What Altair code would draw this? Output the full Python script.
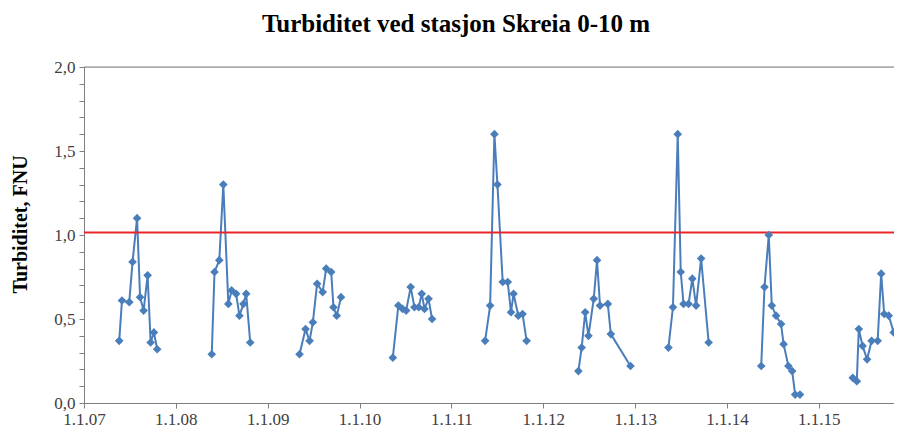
import altair as alt
import pandas as pd

# Sampling times (decimal years) and turbidity values (FNU), one list per season
t2007 = [2007.386, 2007.415, 2007.495, 2007.531, 2007.579, 2007.612, 2007.651, 2007.695, 2007.727, 2007.763, 2007.80]
v2007 = [0.37, 0.61, 0.60, 0.84, 1.10, 0.63, 0.55, 0.76, 0.36, 0.42, 0.32]
t2008 = [2008.392, 2008.421, 2008.475, 2008.519, 2008.573, 2008.609, 2008.657, 2008.693, 2008.737, 2008.766, 2008.81]
v2008 = [0.29, 0.78, 0.85, 1.30, 0.59, 0.67, 0.65, 0.52, 0.59, 0.65, 0.36]
t2009 = [2009.346, 2009.411, 2009.455, 2009.491, 2009.539, 2009.600, 2009.637, 2009.691, 2009.716, 2009.752, 2009.800]
v2009 = [0.29, 0.44, 0.37, 0.48, 0.71, 0.66, 0.80, 0.78, 0.57, 0.52, 0.63]
t2010 = [2010.362, 2010.424, 2010.471, 2010.508, 2010.558, 2010.598, 2010.645, 2010.678, 2010.707, 2010.751, 2010.791]
v2010 = [0.27, 0.58, 0.56, 0.55, 0.69, 0.57, 0.57, 0.65, 0.56, 0.62, 0.50]
t2011 = [2011.368, 2011.422, 2011.469, 2011.502, 2011.560, 2011.614, 2011.651, 2011.679, 2011.730, 2011.777, 2011.821]
v2011 = [0.37, 0.58, 1.60, 1.30, 0.72, 0.72, 0.54, 0.65, 0.52, 0.53, 0.37]
t2012 = [2012.384, 2012.420, 2012.457, 2012.493, 2012.551, 2012.587, 2012.620, 2012.703, 2012.735, 2012.950]
v2012 = [0.19, 0.33, 0.54, 0.40, 0.62, 0.85, 0.58, 0.59, 0.41, 0.22]
t2013 = [2013.364, 2013.411, 2013.465, 2013.498, 2013.527, 2013.581, 2013.622, 2013.665, 2013.720, 2013.802]
v2013 = [0.33, 0.57, 1.60, 0.78, 0.59, 0.59, 0.74, 0.58, 0.86, 0.36]
t2014 = [2014.373, 2014.409, 2014.456, 2014.489, 2014.536, 2014.591, 2014.619, 2014.670, 2014.710, 2014.743, 2014.797]
v2014 = [0.22, 0.69, 1.00, 0.58, 0.52, 0.47, 0.35, 0.22, 0.19, 0.05, 0.05]
t2015 = [2015.370, 2015.414, 2015.436, 2015.479, 2015.527, 2015.577, 2015.643, 2015.680, 2015.715, 2015.762, 2015.817]
v2015 = [0.15, 0.13, 0.44, 0.34, 0.26, 0.37, 0.37, 0.77, 0.53, 0.52, 0.42]

limit_value = 1.015
year_ticks = [f"{y}-01-01" for y in range(2007, 2016)]
y_ticks = [round(i * 0.1, 1) for i in range(0, 21)]

seasons = {
    "2007": (t2007, v2007), "2008": (t2008, v2008), "2009": (t2009, v2009),
    "2010": (t2010, v2010), "2011": (t2011, v2011), "2012": (t2012, v2012),
    "2013": (t2013, v2013), "2014": (t2014, v2014), "2015": (t2015, v2015),
}

rows = []
for s, (ts, vs) in seasons.items():
    for t, v in zip(ts, vs):
        yr = int(t)
        start = pd.Timestamp(f"{yr}-01-01")
        end = pd.Timestamp(f"{yr + 1}-01-01")
        d = start + (end - start) * (t - yr)
        rows.append({"season": s, "date": d.strftime("%Y-%m-%d"), "value": v})
df = pd.DataFrame(rows)

serif = "Liberation Serif"
W, H = 810, 336

x_scale = alt.Scale(domain=["2007-01-01", "2015-10-27"])
y_scale = alt.Scale(domain=[0, 2.0], nice=False)

x_axis = alt.Axis(
    values=year_ticks, labelExpr="'1.1.' + timeFormat(datum.value, '%y')",
    title=None, grid=False, domainColor="#7f7f7f", tickColor="#7f7f7f",
    tickSize=5, labelFont=serif, labelFontSize=17, labelColor="#404040",
    labelPadding=3, labelFlush=False, labelOverlap=False,
)
y_axis = alt.Axis(
    values=y_ticks,
    labelExpr="(abs(datum.value * 2 - round(datum.value * 2)) < 0.001) ? replace(format(datum.value, '.1f'), '.', ',') : ''",
    labelOverlap=False, labelFlush=False,
    title="Turbiditet, FNU", titleFont=serif, titleFontSize=20, titleFontWeight="bold",
    titleColor="#000000", titleX=-54, titleY=157,
    grid=False, domainColor="#7f7f7f", tickColor="#7f7f7f", tickSize=5,
    labelFont=serif, labelFontSize=17, labelColor="#404040", labelPadding=4,
)

X = alt.X("date:T", scale=x_scale, axis=x_axis)
Y = alt.Y("value:Q", scale=y_scale, axis=y_axis)

base = alt.Chart(df)

line = base.mark_line(color="#4a7ebb", strokeWidth=2).encode(x=X, y=Y, detail="season:N")
points = base.mark_point(shape="diamond", filled=True, size=75, color="#4a7ebb", opacity=1).encode(x=X, y=Y)
limit = alt.Chart(pd.DataFrame({"value": [limit_value]})).mark_rule(color="#e8262a", strokeWidth=2).encode(y=Y)
top = alt.Chart(pd.DataFrame({"value": [2.0]})).mark_rule(color="#7f7f7f", strokeWidth=1).encode(y=Y)

chart = alt.layer(line, top, limit, points).properties(
    width=W, height=H,
    title=alt.TitleParams(
        "Turbiditet ved stasjon Skreia 0-10 m", font=serif, fontSize=25,
        fontWeight="bold", color="#000000", offset=21, dx=-33, anchor="middle",
    ),
    autosize=alt.AutoSizeParams(type="none"),
    padding={"left": 76, "top": 59, "right": 0, "bottom": 24},
).configure_view(stroke="transparent", strokeWidth=0).configure(background="white")

chart.save("out.html", embed_options={"renderer": "svg", "actions": False})
